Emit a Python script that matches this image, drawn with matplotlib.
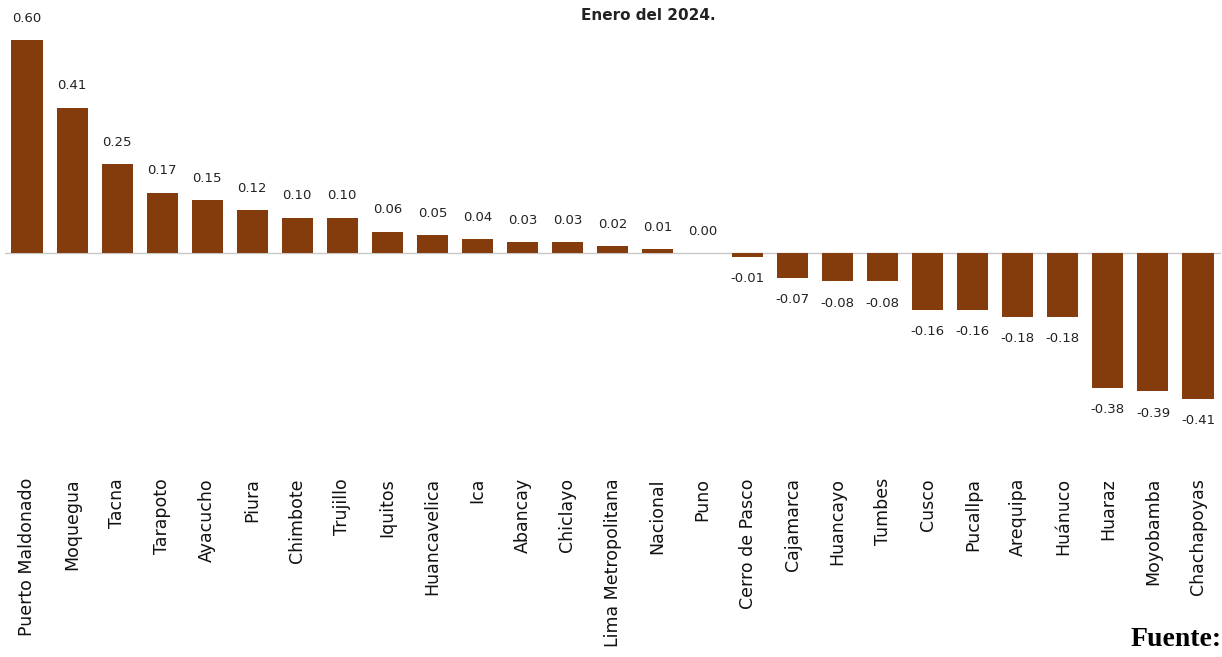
import matplotlib
matplotlib.use("Agg")
import matplotlib.pyplot as plt

categories = ["Puerto Maldonado", "Moquegua", "Tacna", "Tarapoto", "Ayacucho", "Piura",
              "Chimbote", "Trujillo", "Iquitos", "Huancavelica", "Ica", "Abancay",
              "Chiclayo", "Lima Metropolitana", "Nacional", "Puno", "Cerro de Pasco",
              "Cajamarca", "Huancayo", "Tumbes", "Cusco", "Pucallpa", "Arequipa",
              "Huánuco", "Huaraz", "Moyobamba", "Chachapoyas"]
values = [0.60, 0.41, 0.25, 0.17, 0.15, 0.12, 0.10, 0.10, 0.06, 0.05, 0.04, 0.03,
          0.03, 0.02, 0.01, 0.00, -0.01, -0.07, -0.08, -0.08, -0.16, -0.16, -0.18,
          -0.18, -0.38, -0.39, -0.41]
title = "Enero del 2024."
source = "Fuente:"

W, H = 1222, 657
fig = plt.figure(figsize=(W / 100, H / 100), dpi=100)
ax = fig.add_axes([4.5 / W, 1 - 412.75 / H, 1216 / W, (412.75 - 33) / H])

bar_color = "#843C0C"
x = list(range(len(categories)))
ax.bar(x, values, width=0.69, color=bar_color, zorder=2)
ax.axhline(0, color="#c8c8c8", lw=1.0, zorder=1)
ax.set_xlim(-0.5, len(categories) - 0.5)
ax.set_ylim(-0.45, 0.62)

for xi, v in zip(x, values):
    off, va = (11, "bottom") if v >= 0 else (-11, "top")
    ax.annotate(f"{v:.2f}", (xi, v), xytext=(0, off), textcoords="offset points",
                ha="center", va=va, fontsize=9.5, color="#222222",
                family="DejaVu Sans")

ax.set_xticks(x)
ax.set_xticklabels(categories, rotation=90, fontsize=12.5, color="#111111",
                   family="DejaVu Sans")
ax.tick_params(axis="x", length=0, pad=47)
ax.set_yticks([])
for s in ax.spines.values():
    s.set_visible(False)

fig.text(648 / W, 1 - 15 / H, title, ha="center", va="center", fontsize=11,
         color="#222222", family="DejaVu Sans", fontweight="bold")
fig.text(1.0, 1 - 640 / H, source, ha="right", va="center", fontsize=20,
         family="Liberation Serif", fontweight="bold", color="black")

fig.savefig("out.png", dpi=100)
